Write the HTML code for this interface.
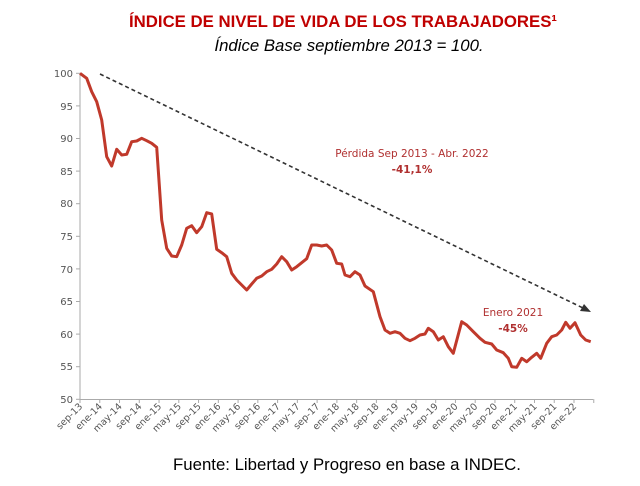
<!DOCTYPE html>
<html><head><meta charset="utf-8"><style>
body{margin:0;background:#fff;width:640px;height:481px;overflow:hidden;font-family:"Liberation Sans",sans-serif}
</style></head><body>
<svg width="640" height="481" xmlns="http://www.w3.org/2000/svg">
<text x="343" y="27" text-anchor="middle" font-family="Liberation Sans" font-weight="bold" font-size="16.8" fill="#c00000">ÍNDICE DE NIVEL DE VIDA DE LOS TRABAJADORES¹</text>
<text x="349" y="51" text-anchor="middle" font-family="Liberation Sans" font-style="italic" font-size="16.8" fill="#000">Índice Base septiembre 2013 = 100.</text>
<g font-family="DejaVu Sans" font-size="10" fill="#555" text-anchor="end">
<text x="73" y="77">100</text><text x="73" y="110">95</text><text x="73" y="142">90</text><text x="73" y="175">85</text><text x="73" y="207">80</text><text x="73" y="240">75</text><text x="73" y="273">70</text><text x="73" y="305">65</text><text x="73" y="338">60</text><text x="73" y="370">55</text><text x="73" y="403">50</text>
</g>
<g stroke="#aaa" stroke-width="1">
<line x1="80" y1="73" x2="80" y2="400"/><line x1="80" y1="399.5" x2="593" y2="399.5"/>
<line x1="76" y1="73.3" x2="80" y2="73.3"/><line x1="76" y1="105.9" x2="80" y2="105.9"/><line x1="76" y1="138.5" x2="80" y2="138.5"/><line x1="76" y1="171.1" x2="80" y2="171.1"/><line x1="76" y1="203.7" x2="80" y2="203.7"/><line x1="76" y1="236.3" x2="80" y2="236.3"/><line x1="76" y1="268.9" x2="80" y2="268.9"/><line x1="76" y1="301.5" x2="80" y2="301.5"/><line x1="76" y1="334.1" x2="80" y2="334.1"/><line x1="76" y1="366.7" x2="80" y2="366.7"/><line x1="76" y1="399.3" x2="80" y2="399.3"/>
</g>
<g id="xt" font-family="DejaVu Sans" font-size="9.5" fill="#555" text-anchor="end"></g>
<line x1="100" y1="74" x2="583" y2="308" stroke="#333" stroke-width="1.6" stroke-dasharray="4,3"/>
<polygon points="591,312 580,311 584,304" fill="#333"/>
<polyline fill="none" stroke="#c0392b" stroke-width="3" stroke-linejoin="round" points="80,73.3 86.7,78.3 91.7,91.7 96.7,101.7 101.7,120 106.7,156.7 111.7,166 116.7,149.3 121.7,155 126.7,154.3 131.7,141.7 136.7,141 141.7,138.3 146.7,140.7 151.7,143.3 156.7,147.3 161.7,220 166.7,248.3 171.7,256 176.7,256.7 181.7,245 186.7,228.3 191.7,225.7 196.7,232.7 201.7,226.7 206.7,212.7 211.7,214 216.7,249.3 221.7,252.7 226.7,256.7 231.7,273.3 236.7,280 241.7,285 246.7,290 251.7,284 256.7,278.3 261.7,276 266.7,271.7 271.7,269.3 276.7,264 281.7,256.7 286.7,261.7 291.7,270 296.7,266.7 301.7,262.7 306.7,258.7 311.7,245 316.7,245 321.7,246 326.7,245 331.7,250 336.7,263.3 341.7,264 345,275 350,276.7 355,271.7 360,275 365,286 373.3,291.7 380,316.7 385,330 390,333.3 395,331.7 400,333.3 405,338.3 410,340.7 415,338.3 420,335 425,334 428.3,328.3 433.3,331.7 438.3,340 443.3,336.7 448.3,346.7 453.3,353.3 461.7,321.7 466.7,325 473.3,331.7 480,338.3 485,342.3 491.7,344 496.7,350 503.3,352.7 508.3,358.3 511.7,366.7 516.7,367.3 521.7,358.3 526.7,361.7 531.7,357.3 536.7,353.3 540.7,358.3 546.7,343.3 551.7,336.7 556.7,335 561.7,330 565.7,322.3 570,328.3 575,322.7 580.7,335 585.7,340 590.7,341.7"/>
<g font-family="DejaVu Sans" font-size="10.5" fill="#b03030" text-anchor="middle">
<text x="412" y="157">Pérdida Sep 2013 - Abr. 2022</text>
<text x="412" y="173" font-weight="bold">-41,1%</text>
<text x="513" y="316">Enero 2021</text>
<text x="513" y="332" font-weight="bold">-45%</text>
</g>
<text x="347" y="470" text-anchor="middle" font-family="Liberation Sans" font-size="16.8" fill="#000">Fuente: Libertad y Progreso en base a INDEC.</text>
<script>
var L=["sep-13","ene-14","may-14","sep-14","ene-15","may-15","sep-15","ene-16","may-16","sep-16","ene-17","may-17","sep-17","ene-18","may-18","sep-18","ene-19","may-19","sep-19","ene-20","may-20","sep-20","ene-21","may-21","sep-21","ene-22"];
var g=document.getElementById("xt"),ns="http://www.w3.org/2000/svg",s=document.querySelector("svg");
for(var i=0;i<27;i++){var x=80+19.76*i;var l=document.createElementNS(ns,"line");l.setAttribute("x1",x);l.setAttribute("x2",x);l.setAttribute("y1",399);l.setAttribute("y2",403);l.setAttribute("stroke","#aaa");s.insertBefore(l,g);
if(i<26){var t=document.createElementNS(ns,"text");t.setAttribute("transform","translate("+(x+3)+",407) rotate(-45)");t.textContent=L[i];g.appendChild(t);}}
</script>
</svg>
</body></html>
